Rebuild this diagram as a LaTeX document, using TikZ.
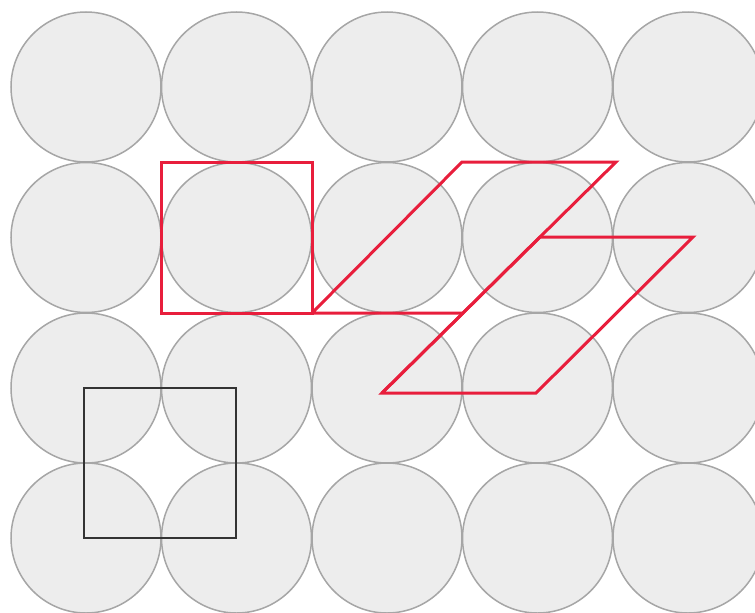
\documentclass[tikz,border=0pt]{standalone}
\begin{document}
\begin{tikzpicture}[x=1pt,y=-1pt,
  ball/.style={circle,draw=black!35,fill=black!7,line width=1.5pt,minimum size=150pt,inner sep=0pt},
  redline/.style={draw={rgb,255:red,232;green,30;blue,60},line width=3pt,line join=miter},
  blackline/.style={draw=black!80,line width=2.2pt}]
\useasboundingbox (0,0) rectangle (755,613);
\foreach \i/\x in {1/86,2/236.5,3/387,4/537.5,5/688}{
  \foreach \j/\y in {1/87,2/237.5,3/388,4/538}{
    \node[ball] (c\i\j) at (\x,\y) {};
  }
}
% red square
\coordinate (sqa) at (161,162);
\coordinate (sqb) at (312,313);
\draw[redline] (sqa) rectangle (sqb);
% parallelogram 1
\coordinate (pa) at (312,313);
\coordinate (pb) at (463,313);
\coordinate (pc) at (616,162);
\coordinate (pd) at (462,162);
\draw[redline] (pa) -- (pb) -- (pc) -- (pd) -- cycle;
% parallelogram 2
\coordinate (qa) at (382,393);
\coordinate (qb) at (536,393);
\coordinate (qc) at (693,237);
\coordinate (qd) at (540,237);
\draw[redline] (qa) -- (qb) -- (qc) -- (qd) -- cycle;
\draw[redline] (qa) -- (pb);
% black square
\coordinate (ka) at (84,388);
\coordinate (kb) at (236,538);
\draw[blackline] (ka) rectangle (kb);
\end{tikzpicture}
\end{document}
